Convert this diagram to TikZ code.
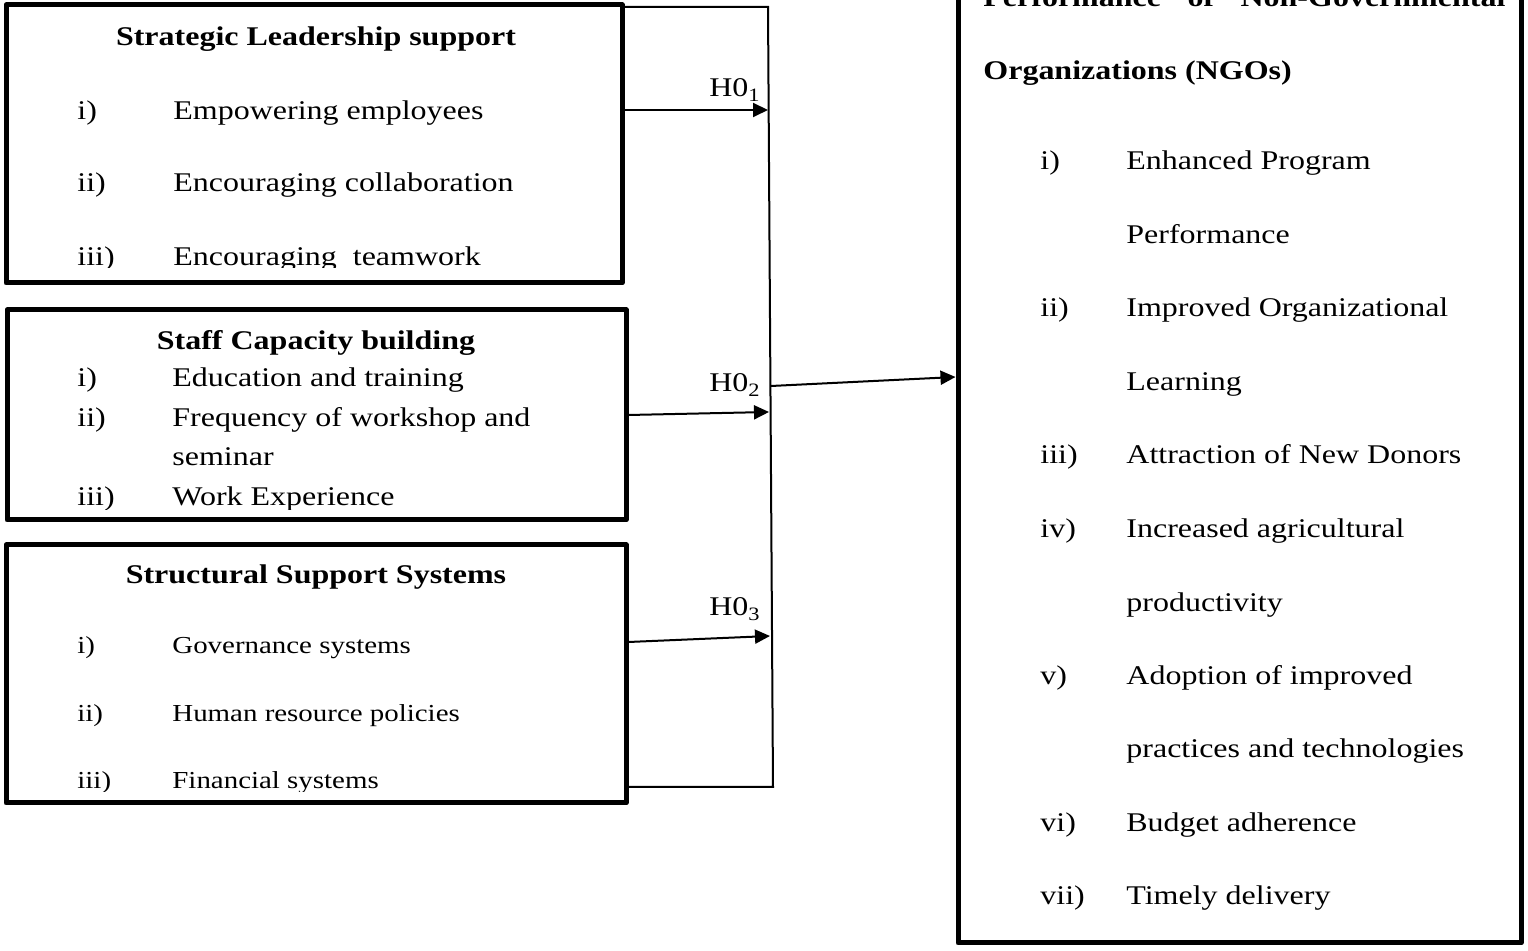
\documentclass[tikz,border=0pt]{standalone}
\usepackage{fontspec}
\setmainfont{Liberation Serif}[FakeStretch=1.185]
\usepackage{tikz}
\usetikzlibrary{arrows.meta, fit}
\tikzstyle{factor} = [rectangle, draw=black, line width=2.5pt, inner sep=0pt, line join=round]
\tikzstyle{item} = [anchor=base west, inner sep=0pt, font=\fontsize{13.5}{16}\selectfont]
\tikzstyle{smallitem} = [item, font=\fontsize{12.2}{14}\selectfont]
\tikzstyle{heading} = [anchor=base, inner sep=0pt, font=\fontsize{13.5}{16}\selectfont\bfseries]
\tikzstyle{hyp} = [anchor=base east, inner sep=0pt, font=\fontsize{13.5}{16}\selectfont]
\tikzstyle{link} = [line width=1pt]
\tikzstyle{arrow} = [line width=1pt, -{Triangle[length=7.5pt,width=7pt]}]

\begin{document}
\begin{tikzpicture}[x=0.5pt, y=-0.5pt]
\clip (0,0) rectangle (1528,951);

% Boxes
\node (leader) [factor, fit={(6,5) (622,283)}] {};
\node (staff) [factor, fit={(7,310) (626,520)}] {};
\node (structure) [factor, fit={(6,545) (626,803)}] {};
\node (perf) [factor, fit={(958,-40) (1521,943)}] {};

% Strategic leadership
\begin{scope}
\clip (10,8) rectangle (618,268);
\node (leadtitle) [heading] at (316,46) {Strategic Leadership support};
\node (lead1n) [item] at (77,120) {i)};
\node (lead1) [item] at (173,120) {Empowering employees};
\node (lead2n) [item] at (77,192) {ii)};
\node (lead2) [item] at (173,192) {Encouraging collaboration};
\node (lead3n) [item] at (77,266) {iii)};
\node (lead3) [item] at (173,266) {Encouraging\ \ teamwork};
\end{scope}

% Staff capacity
\begin{scope}
\clip (10,313) rectangle (622,510);
\node (stafftitle) [heading] at (316,350) {Staff Capacity building};
\node (staff1n) [item] at (77,387) {i)};
\node (staff1) [item] at (172,387) {Education and training};
\node (staff2n) [item] at (77,427) {ii)};
\node (staff2) [item] at (172,427) {Frequency of workshop and};
\node (staff2b) [item] at (172,466) {seminar};
\node (staff3n) [item] at (77,506) {iii)};
\node (staff3) [item] at (172,506) {Work Experience};
\end{scope}

% Structural support
\begin{scope}
\clip (10,548) rectangle (622,792);
\node (structtitle) [heading] at (316,584) {Structural Support Systems};
\node (struct1n) [smallitem] at (77,654) {i)};
\node (struct1) [smallitem] at (172,654) {Governance systems};
\node (struct2n) [smallitem] at (77,722) {ii)};
\node (struct2) [smallitem] at (172,722) {Human resource policies};
\node (struct3n) [smallitem] at (77,789) {iii)};
\node (struct3) [smallitem] at (172,789) {Financial systems};
\end{scope}

% Performance of NGOs
\node (perftitle) [item, font=\fontsize{13.5}{16}\selectfont\bfseries] at (983,7) {\hbox to 261pt{Performance\hfill of\hfill Non-Governmental}};
\node (perftitleb) [item, font=\fontsize{13.5}{16}\selectfont\bfseries] at (983,80) {Organizations (NGOs)};
\node (perf1n) [item] at (1040,170) {i)};
\node (perf1) [item] at (1126,170) {Enhanced Program};
\node (perf1b) [item] at (1126,244) {Performance};
\node (perf2n) [item] at (1040,317) {ii)};
\node (perf2) [item] at (1126,317) {Improved Organizational};
\node (perf2b) [item] at (1126,391) {Learning};
\node (perf3n) [item] at (1040,464) {iii)};
\node (perf3) [item] at (1126,464) {Attraction of New Donors};
\node (perf4n) [item] at (1040,538) {iv)};
\node (perf4) [item] at (1126,538) {Increased agricultural};
\node (perf4b) [item] at (1126,612) {productivity};
\node (perf5n) [item] at (1040,685) {v)};
\node (perf5) [item] at (1126,685) {Adoption of improved};
\node (perf5b) [item] at (1126,758) {practices and technologies};
\node (perf6n) [item] at (1040,832) {vi)};
\node (perf6) [item] at (1126,832) {Budget adherence};
\node (perf7n) [item] at (1040,905) {vii)};
\node (perf7) [item] at (1126,905) {Timely delivery};

% Bracket and hypotheses
\coordinate (bt) at (768,7);
\coordinate (bb) at (773,787);
\coordinate (h1) at (768,110);
\coordinate (h2) at (769,412);
\coordinate (h3) at (770,636);
\coordinate (hub) at (771,386);

\draw [link] (leader.east |- bt) -- (bt) -- (bb) -- (structure.east |- bb);

\draw [arrow] ([yshift=17pt]leader.east) -- (h1);
\draw [arrow] (staff.east) -- (h2);
\draw [arrow] ([yshift=16pt]structure.east) -- (h3);
\draw [arrow] (hub) -- ([yshift=37.25pt]perf.west);

\node (hyp1) [hyp] at (761,97) {H0\textsubscript{1}};
\node (hyp2) [hyp] at (761,392) {H0\textsubscript{2}};
\node (hyp3) [hyp] at (761,616) {H0\textsubscript{3}};

\end{tikzpicture}
\end{document}
